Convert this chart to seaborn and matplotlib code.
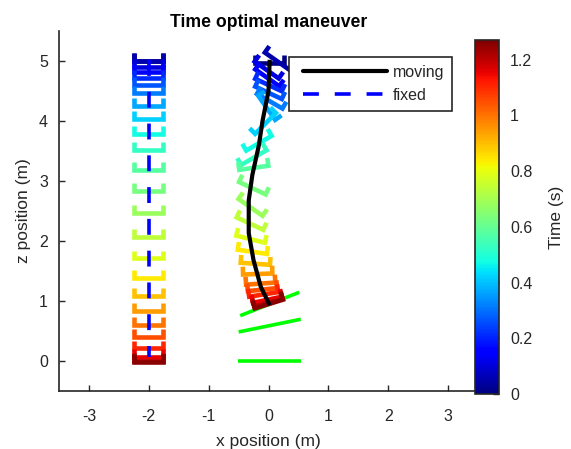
import numpy as np
import matplotlib
matplotlib.use("Agg")
import matplotlib.pyplot as plt
from matplotlib.cm import ScalarMappable
from matplotlib.colors import Normalize
from matplotlib.lines import Line2D
import seaborn as sns

# time stamp of each drawn quad
times = [0.0, 0.053, 0.105, 0.158, 0.21, 0.263, 0.315, 0.368, 0.42, 0.473, 0.525, 0.578, 0.63,
         0.683, 0.735, 0.788, 0.84, 0.893, 0.945, 0.998, 1.05, 1.103, 1.155, 1.208, 1.26]

# fixed quad, heights of the base
fixed_x = -2.0
fixed_z = [5.0, 5.0, 4.9, 4.82, 4.72, 4.6, 4.46, 4.25, 4.04, 3.78, 3.52, 3.18, 2.84,
           2.47, 2.07, 1.71, 1.39, 1.08, 0.83, 0.6, 0.405, 0.21, 0.07, 0.0, -0.01]

# moving quad, base centre and pitch
moving_x = [0.02, 0.14, -0.03, -0.02, 0.0, 0.0, 0.02, -0.03, -0.05, -0.16, -0.245, -0.245, -0.27,
            -0.3, -0.31, -0.3, -0.27, -0.22, -0.18, -0.13, -0.1, -0.08, -0.02, 0.0, 0.006]
moving_z = [4.97, 5.0, 4.85, 4.72, 4.6, 4.47, 4.33, 4.22, 3.96, 3.63, 3.39, 3.22, 2.88,
            2.56, 2.29, 2.03, 1.82, 1.62, 1.45, 1.29, 1.19, 1.11, 1.02, 0.97, 0.95]
moving_pitch = [0, -35, -35, -35, -25, -25, -30, -55, 45, 30, 30, 8, -25,
                -35, -25, -14, -8, -4, 2, 4, 6, 9, 12, 15, 17]

# landing platform poses
floor_z = [0.0, 0.59, 0.95]
floor_pitch = [0, 11.5, 21.6]
floor_x = [0.02, 0.02, 0.02]

# trajectories
traj_x = [0.02, 0.0, -0.1, -0.16, -0.27, -0.33, -0.33, -0.25, -0.13, 0.02]
traj_z = [5.02, 4.5, 4.0, 3.6, 3.1, 2.68, 2.13, 1.68, 1.24, 0.93]
fixed_line_z = [5.02, 0.07]

x_ticks = [-3, -2, -1, 0, 1, 2, 3]
z_ticks = [0, 1, 2, 3, 4, 5]
time_ticks = [0, 0.2, 0.4, 0.6, 0.8, 1, 1.2]
time_tick_labels = ["0", "0.2", "0.4", "0.6", "0.8", "1", "1.2"]

sns.set_style("ticks")
plt.rcParams["font.family"] = ["Liberation Sans", "DejaVu Sans"]
plt.rcParams["axes.unicode_minus"] = False
dark = "#262626"
half_w = 0.245
arm = 0.13
cmap = plt.get_cmap("jet")
norm = Normalize(0, 1.27)


def draw_path(ax, xs, zs, color, lw):
    sns.lineplot(x=xs, y=zs, sort=False, estimator=None, errorbar=None, color=color,
                 linewidth=lw, solid_capstyle="butt", solid_joinstyle="miter",
                 legend=False, ax=ax)
    return ax.lines[-1]


def draw_bracket(ax, x, z, pitch, color):
    a = np.radians(pitch)
    u = np.array([-half_w, -half_w, half_w, half_w])
    v = np.array([arm, 0, 0, arm])
    xs = x + u * np.cos(a) - v * np.sin(a)
    zs = z + u * np.sin(a) + v * np.cos(a)
    draw_path(ax, xs, zs, color, 3.3)


fig = plt.figure(figsize=(5.71, 4.49), dpi=100)
ax = fig.add_axes([59 / 571, 1 - 391 / 449, 419 / 571, 360 / 449])

for i in range(len(floor_z)):
    a = np.radians(floor_pitch[i])
    draw_path(ax, [floor_x[i] - 0.53 * np.cos(a), floor_x[i] + 0.53 * np.cos(a)],
              [floor_z[i] - 0.53 * np.sin(a), floor_z[i] + 0.53 * np.sin(a)], "#00ff00", 2.6)

for i in range(len(times)):
    draw_bracket(ax, fixed_x, fixed_z[i], 0, cmap(norm(times[i])))
    draw_bracket(ax, moving_x[i], moving_z[i], moving_pitch[i], cmap(norm(times[i])))

line = draw_path(ax, [fixed_x, fixed_x], fixed_line_z, "#0000ff", 2.6)
line.set_dashes((4.4, 4.4))
draw_path(ax, traj_x, traj_z, "black", 3.0)

ax.set_xlim(-3.5, 3.5)
ax.set_ylim(-0.5, 5.5)
ax.set_xticks(x_ticks)
ax.set_yticks(z_ticks)
ax.tick_params(direction="in", length=4, width=1, color=dark, labelcolor=dark, labelsize=11.5)
ax.tick_params(axis="x", pad=13)
ax.tick_params(axis="y", pad=8)
for side in ["top", "right"]:
    ax.spines[side].set_visible(False)
for side in ["left", "bottom"]:
    ax.spines[side].set_linewidth(1.2)
    ax.spines[side].set_color(dark)
ax.set_xlabel("x position (m)", fontsize=12.5, color=dark, labelpad=7)
ax.set_ylabel("z position (m)", fontsize=12.5, color=dark, labelpad=6)
ax.set_title("Time optimal maneuver", fontsize=12.7, fontweight="bold", color="black", pad=3)

handles = [Line2D([], [], color="black", lw=3.0),
           Line2D([], [], color="#0000ff", lw=2.6, dashes=(4.4, 4.4))]
leg = ax.legend(handles, ["moving", "fixed"], loc="upper left", bbox_to_anchor=(230 / 419, 334 / 360),
                fancybox=False, framealpha=1, edgecolor=dark, fontsize=11.5, handlelength=5.63,
                handletextpad=0.38, borderpad=0.5, labelspacing=0.5, borderaxespad=0, numpoints=2)
leg.get_frame().set_linewidth(1.2)
for t in leg.get_texts():
    t.set_color(dark)
for h in leg.get_lines():
    h.set_xdata([4.3, 64.8])

cax = fig.add_axes([475 / 571, 1 - 394 / 449, 24 / 571, 354 / 449])
cb = fig.colorbar(ScalarMappable(norm=norm, cmap=cmap), cax=cax)
cb.set_ticks(time_ticks)
cb.set_ticklabels(time_tick_labels)
cb.ax.tick_params(direction="in", length=4, width=1, color=dark, labelcolor=dark, labelsize=11.5, pad=8)
cb.outline.set_linewidth(1.2)
cb.outline.set_edgecolor(dark)
cb.set_label("Time (s)", fontsize=12.5, color=dark, labelpad=12)

fig.savefig("out.png", dpi=100)
